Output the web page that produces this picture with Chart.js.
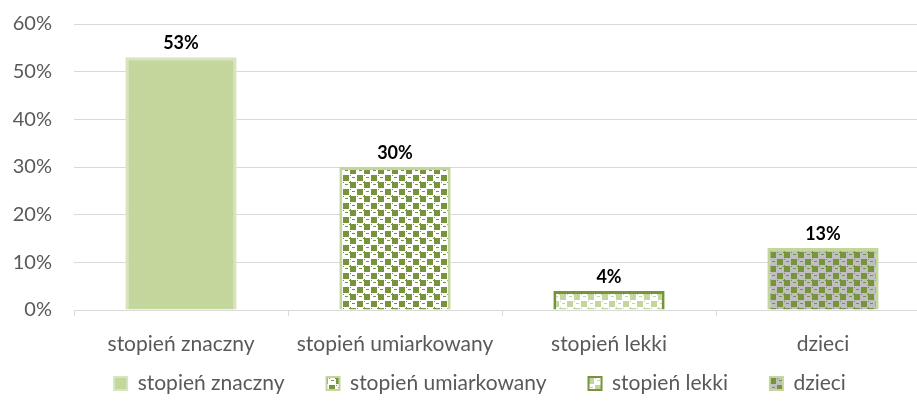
<!DOCTYPE html>
<html>
<head>
<meta charset="utf-8">
<script src="https://cdn.jsdelivr.net/npm/chart.js@4/dist/chart.umd.min.js"></script>
<style>
  html, body { margin: 0; padding: 0; background: #fff; overflow: hidden; }
  #wrap { width: 975px; height: 406px; }
</style>
</head>
<body>
<div id="wrap"><canvas id="c"></canvas></div>
<script>
// ========= data =========
const categories = ["stopień znaczny", "stopień umiarkowany", "stopień lekki", "dzieci"];
const shares = [53, 30, 4, 13];
const yMax = 60;
const yStep = 10;

const DARK = "#77933c";
const LIGHT = "#c3d69b";
const PALE = "#d7e4bd";
const GREY_TXT = "#595959";
const GRID = "#d9d9d9";
const FONT = "Lato";

// ========= patterns =========
function makePattern(bg, fg, dash) {
  const t = document.createElement("canvas");
  t.width = 14; t.height = 14;
  const c = t.getContext("2d");
  c.fillStyle = bg;
  c.fillRect(0, 0, 14, 14);
  c.fillStyle = fg;
  c.fillRect(0, 0, 6, 6);
  c.fillRect(7, 7, 6, 6);
  c.fillStyle = dash;
  c.fillRect(9, 2, 3, 1);
  c.fillRect(2, 9, 3, 1);
  c.fillRect(7, 0, 1, 1);
  c.fillRect(13, 0, 1, 1);
  c.fillRect(0, 7, 1, 1);
  c.fillRect(0, 13, 1, 1);
  return c.createPattern(t, "repeat");
}

const ctx = document.getElementById("c").getContext("2d");
const fills = [
  LIGHT,
  makePattern("#ffffff", DARK, DARK),
  makePattern("#ffffff", LIGHT, LIGHT),
  makePattern("#bfbfbf", DARK, DARK)
];
const borders = [PALE, LIGHT, DARK, LIGHT];

// ========= labels above bars =========
const valueLabels = {
  id: "valueLabels",
  afterDatasetsDraw(chart) {
    const c = chart.ctx;
    const meta = chart.getDatasetMeta(0);
    c.save();
    c.font = "bold 18px " + FONT;
    c.fillStyle = "#000";
    c.textAlign = "center";
    c.textBaseline = "bottom";
    meta.data.forEach((bar, i) => {
      c.fillText(shares[i] + "%", bar.x, bar.y - 5);
    });
    c.restore();
  }
};

// legend sits a bit higher / further right than the default box
const legendNudge = {
  id: "legendNudge",
  afterLayout(chart) {
    const lg = chart.legend;
    lg.top -= 25; lg.bottom -= 25;
    lg.left += 10; lg.right += 10;
  }
};

new Chart(ctx, {
  type: "bar",
  data: {
    labels: categories,
    datasets: [{
      data: shares,
      backgroundColor: fills,
      borderColor: borders,
      borderWidth: 3,
      categoryPercentage: 1,
      barPercentage: 0.52
    }]
  },
  options: {
    responsive: true,
    maintainAspectRatio: false,
    animation: false,
    layout: { padding: { left: 10, right: 45, top: 24, bottom: -23 } },
    scales: {
      x: {
        grid: { drawOnChartArea: false, drawTicks: true, tickLength: 6, color: GRID },
        border: { color: GRID },
        ticks: { color: GREY_TXT, font: { family: FONT, size: 21 }, padding: 16 },
        afterFit: s => { s.height = 46; }
      },
      y: {
        min: 0, max: yMax,
        grid: { color: GRID, drawTicks: false },
        border: { display: false },
        ticks: {
          stepSize: yStep,
          color: GREY_TXT,
          font: { family: FONT, size: 20 },
          padding: 22,
          callback: v => v + "%"
        },
        afterFit: s => { s.width = 64; s.paddingTop = 0; s.paddingBottom = 0; }
      }
    },
    plugins: {
      tooltip: { enabled: false },
      legend: {
        position: "bottom",
        labels: {
          color: GREY_TXT,
          font: { family: FONT, size: 21 },
          boxWidth: 13,
          boxHeight: 13,
          padding: 42,
          generateLabels: () => categories.map((name, i) => ({
            text: name,
            fillStyle: fills[i],
            strokeStyle: borders[i],
            lineWidth: 2,
            fontColor: GREY_TXT,
            index: i
          }))
        }
      }
    }
  },
  plugins: [valueLabels, legendNudge]
});
</script>
</body>
</html>
